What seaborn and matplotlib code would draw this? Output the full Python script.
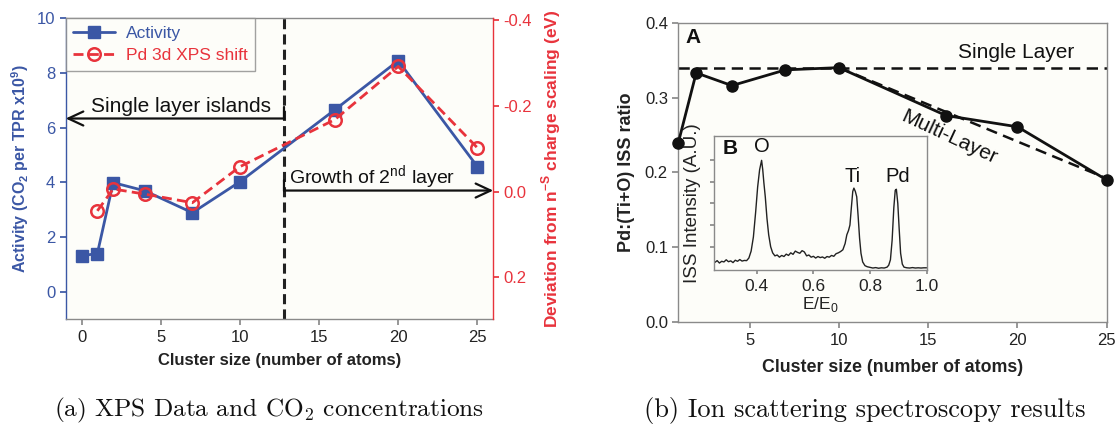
import numpy as np
import pandas as pd
import matplotlib
matplotlib.use("Agg")
import matplotlib.pyplot as plt
import seaborn as sns
from matplotlib.lines import Line2D

# ---------------- Panel (a) data ----------------
size_act = [0, 1, 2, 4, 7, 10, 16, 20, 25]
activity = [1.32, 1.40, 3.99, 3.69, 2.89, 4.02, 6.65, 8.44, 4.57]
size_xps = [1, 2, 4, 7, 10, 16, 20, 25]
xps_shift = [0.045, -0.006, 0.006, 0.026, -0.058, -0.168, -0.292, -0.102]
layer_boundary = 12.8
act_ticks = [0, 2, 4, 6, 8, 10]
xps_ticks = [-0.4, -0.2, 0.0, 0.2]
size_ticks_a = [0, 5, 10, 15, 20, 25]

# ---------------- Panel (b) data ----------------
size_iss = [1, 2, 4, 7, 10, 16, 20, 25]
iss_ratio = [0.24, 0.333, 0.316, 0.337, 0.340, 0.276, 0.261, 0.19]
single_layer_level = 0.34
multi_layer_x = [10, 25]
multi_layer_y = [0.34, 0.192]
size_ticks_b = [5, 10, 15, 20, 25]
iss_ticks = [0.0, 0.1, 0.2, 0.3, 0.4]

# Inset spectrum
spec_x = [0.252, 0.26, 0.268, 0.276, 0.284, 0.292, 0.30, 0.308, 0.316, 0.324,
          0.332, 0.34, 0.348, 0.356, 0.364, 0.372, 0.38, 0.388, 0.396, 0.403,
          0.41, 0.417, 0.421, 0.425, 0.43, 0.436, 0.442, 0.449, 0.456, 0.464,
          0.472, 0.48, 0.488, 0.496, 0.504, 0.512, 0.52, 0.528, 0.536, 0.544,
          0.552, 0.56, 0.568, 0.576, 0.584, 0.592, 0.60, 0.608, 0.616, 0.624,
          0.632, 0.64, 0.648, 0.656, 0.664, 0.672, 0.68, 0.688, 0.696, 0.704,
          0.712, 0.718, 0.724, 0.729, 0.734, 0.739, 0.743, 0.748, 0.753, 0.758,
          0.763, 0.768, 0.774, 0.782, 0.79, 0.80, 0.81, 0.82, 0.83, 0.84,
          0.85, 0.86, 0.866, 0.872, 0.878, 0.884, 0.889, 0.893, 0.898, 0.903,
          0.908, 0.914, 0.92, 0.93, 0.94, 0.95, 0.96, 0.97, 0.98, 0.99, 1.0]
spec_y = [0.28, 0.36, 0.25, 0.33, 0.30, 0.40, 0.31, 0.35, 0.27, 0.38,
          0.33, 0.41, 0.34, 0.37, 0.36, 0.48, 0.80, 1.45, 2.60, 3.75,
          4.55, 4.98, 4.55, 3.95, 3.30, 2.30, 1.55, 1.00, 0.72, 0.58,
          0.62, 0.52, 0.60, 0.55, 0.66, 0.60, 0.72, 0.65, 0.80, 0.74,
          0.70, 0.82, 0.76, 0.58, 0.62, 0.52, 0.56, 0.48, 0.55, 0.50,
          0.53, 0.47, 0.55, 0.52, 0.60, 0.56, 0.68, 0.72, 0.78, 0.86,
          1.15, 1.55, 1.75, 2.00, 2.80, 3.55, 3.70, 3.55, 3.30, 2.40,
          1.40, 0.70, 0.30, 0.13, 0.08, 0.05, 0.02, 0.04, 0.01, 0.03,
          0.02, 0.06, 0.15, 0.40, 1.30, 2.80, 3.60, 3.65, 3.00, 1.80,
          0.70, 0.20, 0.06, 0.03, 0.02, 0.04, 0.02, 0.03, 0.02, 0.03, 0.03]
inset_ticks = [0.4, 0.6, 0.8, 1.0]
inset_yticks = [1, 2, 3, 4, 5]

# ---------------- Style ----------------
BLUE = '#3b57a5'
RED = '#e8333c'
FACE = '#fdfdf9'
SPINE = '#8a8a8a'
INK = '#111111'

sns.set_theme(style="ticks")
plt.rcParams['font.family'] = ['Liberation Sans', 'DejaVu Sans']
plt.rcParams['mathtext.fontset'] = 'custom'
plt.rcParams['mathtext.rm'] = 'Liberation Sans'
plt.rcParams['mathtext.bf'] = 'Liberation Sans:bold'

fig = plt.figure(figsize=(11.17, 4.28), dpi=100)
fig.patch.set_facecolor('white')

# ================= Panel (a) =================
ax1 = fig.add_axes([0.0588, 0.254, 0.3828, 0.704])
ax1.set_facecolor(FACE)
ax1r = ax1.twinx()

df_act = pd.DataFrame({'size': size_act, 'activity': activity})
df_xps = pd.DataFrame({'size': size_xps, 'shift': xps_shift})

sns.lineplot(data=df_act, x='size', y='activity', ax=ax1, color=BLUE,
             marker='s', markersize=8.5, linewidth=2.0,
             markeredgecolor=BLUE, markerfacecolor=BLUE, markeredgewidth=1,
             legend=False, zorder=3)
sns.lineplot(data=df_xps, x='size', y='shift', ax=ax1r, color=RED,
             marker='o', markersize=9, linewidth=2.0,
             linestyle=(0, (3.6, 1.9)),
             markeredgecolor=RED, markerfacecolor='none', markeredgewidth=1.8,
             legend=False, zorder=3)

ax1.set_xlim(-1, 26)
ax1.set_ylim(-1, 10)
ax1r.set_ylim(0.298, -0.405)
ax1.set_xticks(size_ticks_a)
ax1.set_yticks(act_ticks)
ax1r.set_yticks(xps_ticks)
ax1r.set_yticklabels(['-0.4', '-0.2', '0.0', '0.2'])

ax1.set_xlabel('Cluster size (number of atoms)', fontsize=12, fontweight='bold',
               color='#222222', labelpad=6)
ax1.set_ylabel(r'Activity (CO$_\mathbf{2}$ per TPR x10$^\mathbf{9}$)', fontsize=11.5,
               fontweight='bold', color=BLUE, labelpad=4)
ax1r.set_ylabel(r'Deviation from n$^\mathbf{-S}$ charge scaling (eV)', fontsize=12.5,
                fontweight='bold', color=RED, labelpad=5)

for s in ['top', 'bottom']:
    ax1.spines[s].set_color(SPINE)
ax1.spines['left'].set_color(BLUE)
ax1.spines['right'].set_visible(False)
ax1r.spines['right'].set_color(RED)
ax1r.spines['left'].set_visible(False)
ax1r.spines['top'].set_visible(False)
ax1r.spines['bottom'].set_visible(False)
for sp in ax1.spines.values():
    sp.set_linewidth(1.0)
ax1r.spines['right'].set_linewidth(1.0)

ax1.tick_params(axis='x', colors=SPINE, labelcolor='#222222', labelsize=12, length=4)
ax1.tick_params(axis='y', colors=BLUE, labelcolor=BLUE, labelsize=12, length=4)
ax1r.tick_params(axis='y', colors=RED, labelcolor=RED, labelsize=12, length=4)

ax1.axvline(layer_boundary, color='#222222', lw=2.2, linestyle=(0, (3.3, 1.7)), zorder=2)

arrow_kw = dict(arrowstyle='->,head_length=0.9,head_width=0.42', lw=1.6,
                color=INK, shrinkA=0, shrinkB=0)
ax1.annotate('', xy=(-1, 6.33), xytext=(layer_boundary, 6.33), arrowprops=arrow_kw,
             annotation_clip=False)
ax1.annotate('', xy=(26, 3.70), xytext=(layer_boundary, 3.70), arrowprops=arrow_kw,
             annotation_clip=False)
ax1.plot([layer_boundary, layer_boundary], [6.33, 6.75], color=INK, lw=1.6)
ax1.plot([layer_boundary, layer_boundary], [3.70, 4.10], color=INK, lw=1.6)
ax1.text(6.3, 6.76, 'Single layer islands', fontsize=15, ha='center', va='center',
         color=INK)
ax1.text(13.1, 4.18, r'Growth of 2$^{\mathrm{nd}}$ layer', fontsize=14, ha='left',
         va='center', color=INK)

# legend
handles = [Line2D([], [], color=BLUE, marker='s', markersize=8.5, lw=2.0),
           Line2D([], [], color=RED, marker='o', markersize=9, lw=2.0,
                  linestyle=(0, (3.6, 1.9)), markerfacecolor='none', markeredgewidth=1.8)]
leg = ax1r.legend(handles, ['Activity', 'Pd 3d XPS shift'], loc='upper left',
                  bbox_to_anchor=(0.0, 1.0), fontsize=12.5, frameon=True, fancybox=False,
                  borderaxespad=0.0, handlelength=2.4, borderpad=0.45, labelspacing=0.4,
                  handletextpad=0.6)
leg.get_frame().set_edgecolor(SPINE)
leg.get_frame().set_linewidth(1.0)
leg.get_frame().set_facecolor(FACE)
leg.get_texts()[0].set_color(BLUE)
leg.get_texts()[1].set_color(RED)

# ================= Panel (b) =================
ax2 = fig.add_axes([0.6073, 0.247, 0.3835, 0.700])
ax2.set_facecolor(FACE)
df_iss = pd.DataFrame({'size': size_iss, 'ratio': iss_ratio})
df_ml = pd.DataFrame({'size': multi_layer_x, 'ratio': multi_layer_y})

ax2.axhline(single_layer_level, color=INK, lw=1.8, linestyle=(0, (4.5, 2.6)), zorder=2)
sns.lineplot(data=df_ml, x='size', y='ratio', ax=ax2, color=INK, lw=1.8,
             linestyle=(0, (4.5, 2.6)), legend=False, zorder=2)
sns.lineplot(data=df_iss, x='size', y='ratio', ax=ax2, color=INK, lw=2.0,
             marker='o', markersize=8, markeredgecolor=INK,
             markerfacecolor=INK, markeredgewidth=1, legend=False, zorder=3,
             clip_on=False)
ax2.set_xlim(1, 25)
ax2.set_ylim(0, 0.4)
ax2.set_xticks(size_ticks_b)
ax2.set_yticks(iss_ticks)
ax2.set_yticklabels(['0.0', '0.1', '0.2', '0.3', '0.4'])
ax2.set_xlabel('Cluster size (number of atoms)', fontsize=12.8, fontweight='bold',
               color='#222222', labelpad=8)
ax2.set_ylabel('Pd:(Ti+O) ISS ratio', fontsize=13, fontweight='bold',
               color='#222222', labelpad=7)
for sp in ax2.spines.values():
    sp.set_color(SPINE)
    sp.set_linewidth(1.0)
ax2.tick_params(colors=SPINE, labelcolor='#222222', labelsize=12, length=4)

ax2.text(19.9, 0.360, 'Single Layer', fontsize=15, ha='center', va='center', color=INK)
ax2.text(16.2, 0.247, 'Multi-Layer', fontsize=15, ha='center', va='center',
         rotation=-25, rotation_mode='anchor', color=INK)
ax2.text(1.8, 0.380, 'A', fontsize=15, fontweight='bold', ha='center', va='center',
         color=INK)

# Inset
ax3 = fig.add_axes([0.6395, 0.3692, 0.1901, 0.313])
ax3.set_facecolor(FACE)
df_spec = pd.DataFrame({'E': spec_x, 'I': spec_y})
sns.lineplot(data=df_spec, x='E', y='I', ax=ax3, color='#222222', lw=1.0, legend=False)
ax3.set_xlim(0.25, 1.0)
ax3.set_ylim(-0.07, 6.1)
ax3.set_xticks(inset_ticks)
ax3.set_xticklabels(['0.4', '0.6', '0.8', '1.0'])
ax3.set_yticks(inset_yticks)
ax3.set_yticklabels([])
ax3.set_xlabel(r'E/E$_0$', fontsize=12.5, color='#222222', labelpad=1)
ax3.set_ylabel('ISS Intensity (A.U.)', fontsize=13.5, color='#222222', labelpad=3)
for sp in ax3.spines.values():
    sp.set_color(SPINE)
    sp.set_linewidth(1.0)
ax3.tick_params(colors=SPINE, labelcolor='#222222', labelsize=12.5, length=3)
ax3.text(0.074, 0.91, 'B', transform=ax3.transAxes, fontsize=15, fontweight='bold',
         ha='center', va='center', color=INK)
ax3.text(0.417, 0.92, 'O', transform=ax3.get_xaxis_transform(), fontsize=14.5,
         ha='center', va='center', color=INK)
ax3.text(0.739, 0.70, 'Ti', transform=ax3.get_xaxis_transform(), fontsize=14.5,
         ha='center', va='center', color=INK)
ax3.text(0.898, 0.70, 'Pd', transform=ax3.get_xaxis_transform(), fontsize=14.5,
         ha='center', va='center', color=INK)

# Captions
fig.text(0.241, 0.042, r'(a) XPS Data and CO$_2$ concentrations', family='cmr10',
         ha='center', va='center', fontsize=18.2, math_fontfamily='cm', color=INK)
fig.text(0.774, 0.042, '(b) Ion scattering spectroscopy results', family='cmr10',
         ha='center', va='center', fontsize=19, color=INK)

fig.savefig('out.png', dpi=100)
